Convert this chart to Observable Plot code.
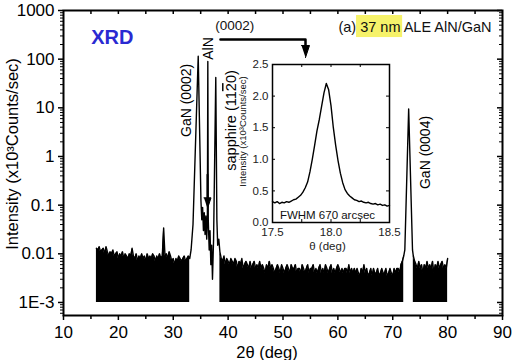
<!DOCTYPE html>
<html><head><meta charset="utf-8">
<script src="https://cdn.jsdelivr.net/npm/d3@7"></script>
<script src="https://cdn.jsdelivr.net/npm/@observablehq/plot@0.6"></script>
<style>
body{margin:0;background:#fff;}
#wrap{position:relative;width:512px;height:360px;}
#wrap svg{position:absolute;left:0;top:0;}
</style></head><body><div id="wrap"></div>
<script>
// ===== Main 2θ scan =====
// noise floor segments, sampled every 0.25 deg, values in counts/s (1 count/s = 1E-3 x10^3 counts/s)
const noiseAStart = 16.0, noiseBStart = 38.5, noiseCStart = 73.75, noiseStep = 0.25;
const noiseA = [13,12,14,11, 12,13,10,14,11, 9,11,10,12,9,10, 11,8,10,9,11,8, 10,9,8,10,9,13,
  9,8,10,7,9,8, 10,8,9,7,10,8, 9,8,10,9,7,9, 8,10,8,9,34,9, 10,8,11,9,7,8, 6,8,7,9,8,7, 8,9,7,8,9,8];
const noiseB = [11,8,7,9,6,8,7,6,8,7,
  6,8,7,5,7,6,8,5,6,7,
  6,5,7,5,6,7,5,6,5,7,
  5,6,5,4,6,5,7,5,6,5,
  4,5,6,5,4,6,5,4,5,6,
  5,4,6,5,5,6,4,5,5,4,
  6,5,4,5,6,4,5,5,6,4,
  5,4,5,6,4,5,4,6,5,4,
  5,6,4,5,4,5,6,5,4,5,
  4,5,5,4,6,4,5,4,5,4,
  5,4,3.5,5,4,6,4,5,3.5,4,
  5,3.5,5,4,4,5,3.5,4,5,4,
  4,5,3.5,4,5,4,3.5,5,4,5,
  5,4,6,7,9];
const noiseC = [9,7,6,5,7,5,6,4,6,5,7,5,6,5,7,4,6,5,7,5,6,7,5,6,5,8];
const FLOOR = 0.001; // 1E-3 (x10^3 counts/s)

// peaks (2θ deg, intensity x10^3 counts/s)
const peak1X = [33.25,33.6,34.55,35.05,35.2,35.35,35.5,35.65,35.8,35.95,36.1,36.22,36.3,36.38,36.55,36.7,36.85,37.0,37.15,37.35,37.75,37.95,38.1,38.3];
const peak1Y = [0.012,0.04,115,0.12,0.05,0.09,0.03,0.07,0.025,0.06,0.02,0.05,90,0.05,0.012,0.03,0.006,0.015,0.003,0.02,42,0.05,0.015,0.02];
const peak2X = [72.2,72.9,73.6];
const peak2Y = [0.012,9.5,0.012];

const xTicks = [10,20,30,40,50,60,70,80,90];
const xMinorTicks = [15,25,35,45,55,65,75,85];
const yTicks = [0.001,0.01,0.1,1,10,100,1000];
const yTickLabels = ["1E-3","0.01","0.1","1","10","100","1000"];
const yMinor = [0.0006,0.0007,0.0008,0.0009].concat([0.001,0.01,0.1,1,10,100].flatMap(d => [2,3,4,5,6,7,8,9].map(k => k*d)));

// ===== Inset: sapphire rocking curve =====
const insetStart = 17.5, insetStep = 0.02;
const insetY = [0.33,0.31,0.33,0.30,0.32,0.31,0.33,0.32,0.34,0.36,
  0.37,0.40,0.43,0.48,0.55,0.64,0.80,1.00,1.22,1.45,
  1.63,1.84,2.05,2.20,2.10,1.85,1.50,1.22,0.98,0.78,
  0.63,0.52,0.46,0.42,0.39,0.36,0.35,0.33,0.34,0.32,
  0.31,0.32,0.30,0.29,0.30,0.28,0.29,0.27,0.28,0.26,0.27];
const insetXTicks = [17.5,18.0,18.5];
const insetXLabels = ["17.5","18.0","18.5"];
const insetXAll = [17.5,17.75,18.0,18.25,18.5];
const insetYTicks = [0,0.5,1.0,1.5,2.0,2.5];
const insetYLabels = ["0.0","0.5","1.0","1.5","2.0","2.5"];

// ===== build tables =====
const FONT = '"Liberation Sans", Arial, Helvetica, sans-serif';
const seg = (start, vals, name) => vals.map((v, i) => ({x: start + i*noiseStep, y: v/1000, seg: name}));
const noiseRows = [...seg(noiseAStart, noiseA, "a"), ...seg(noiseBStart, noiseB, "b"), ...seg(noiseCStart, noiseC, "c")];
const peakRows = [...peak1X.map((x,i)=>({x, y: peak1Y[i]})), ...peak2X.map((x,i)=>({x, y: peak2Y[i]}))];
const scanRows = [...noiseRows, ...peakRows].sort((a,b)=>a.x-b.x);
const insetRows = insetY.map((y,i)=>({x: insetStart + i*insetStep, y}));

const W = 512, H = 360, mL = 63, mR = 10, mT = 10, mB = 45;
const fw = W-mL-mR, fh = H-mT-mB;

const bracket = [{x:38.6,y:254},{x:54.1,y:254},{x:54.1,y:180}];
const bracketHead = [{x:53.37,y:191},{x:54.83,y:191},{x:54.1,y:108}];
const shaft = [{x:36.24,y:0.42},{x:36.24,y:0.13}];
const shaftHead = [{x:35.6,y:0.1415},{x:36.88,y:0.1415},{x:36.24,y:0.0854}];

const main = Plot.plot({
  width: W, height: H, marginLeft: mL, marginRight: mR, marginTop: mT, marginBottom: mB,
  style: {fontFamily: FONT, fontSize: "17px", background: "white", color: "black"},
  x: {domain: [10, 90], axis: null},
  y: {type: "log", domain: [5.4e-4, 1000], axis: null},
  marks: [
    Plot.rect([0], {x1: 63.4, x2: 71.8, y1: 278, y2: 789, fill: "#f6f26a"}),
    Plot.areaY(noiseRows, {x: "x", y1: FLOOR, y2: "y", z: "seg", fill: "black", curve: "linear"}),
    Plot.line(scanRows, {x: "x", y: "y", stroke: "black", strokeWidth: 1.4}),
    Plot.frame({stroke: "black", strokeWidth: 2}),
    Plot.tickX(xTicks, {x: d=>d, insetTop: fh, insetBottom: -5, strokeWidth: 1.5}),
    Plot.tickX(xMinorTicks, {x: d=>d, insetTop: fh, insetBottom: -4, strokeWidth: 1.5}),
    Plot.tickX([...xTicks.slice(1,-1), ...xMinorTicks], {x: d=>d, insetTop: 0, insetBottom: fh-4, strokeWidth: 1.5}),
    Plot.tickY(yTicks, {y: d=>d, insetLeft: -5, insetRight: fw, strokeWidth: 1.5}),
    Plot.tickY(yMinor, {y: d=>d, insetLeft: -3, insetRight: fw, strokeWidth: 1}),
    Plot.tickY(yTicks, {y: d=>d, insetLeft: fw-5, insetRight: 0, strokeWidth: 1.5}),
    Plot.tickY(yMinor, {y: d=>d, insetLeft: fw-3, insetRight: 0, strokeWidth: 1}),
    Plot.text(xTicks, {x: d=>d, text: d=>String(d), frameAnchor: "bottom", lineAnchor: "middle", dy: 17, fontSize: 17}),
    Plot.text(yTicks, {y: d=>d, text: (d,i)=>yTickLabels[i], frameAnchor: "left", dx: -9, textAnchor: "end", lineAnchor: "middle", fontSize: 17}),
    Plot.text(["Intensity (x10³Counts/sec)"], {text: d=>d, frameAnchor: "left", textAnchor: "middle", lineAnchor: "middle", dx: -51, dy: -9, rotate: -90, fontSize: 16.5}),
    Plot.text(["2θ (deg)"], {text: d=>d, frameAnchor: "bottom", textAnchor: "middle", lineAnchor: "middle", dx: -16, dy: 37, fontSize: 16.5}),
    Plot.text(["XRD"], {text: d=>d, x: 18.9, y: 280, fontSize: 20, fontWeight: "bold", fill: "#2a2ad2"}),
    Plot.text(["(a) 37 nm ALE AlN/GaN"], {text: d=>d, x: 60.1, y: 448, textAnchor: "start", fontSize: 14.5, fill: "#111"}),
    Plot.text(["(0002)"], {text: d=>d, x: 41.2, y: 492, fontSize: 13.5, fill: "#111"}),
    Plot.line(bracket, {x: "x", y: "y", stroke: "black", strokeWidth: 2.5}),
    Plot.line(bracketHead, {x: "x", y: "y", fill: "black", stroke: "black", strokeWidth: 1}),
    Plot.line(shaft, {x: "x", y: "y", stroke: "black", strokeWidth: 2}),
    Plot.line(shaftHead, {x: "x", y: "y", fill: "black", stroke: "black", strokeWidth: 1}),
    Plot.text(["GaN (0002)"], {text: d=>d, x: 32.5, y: 14.2, rotate: -90, fontSize: 14}),
    Plot.text(["AlN"], {text: d=>d, x: 36.4, y: 166, rotate: -90, fontSize: 14}),
    Plot.text(["sapphire (1120)"], {text: d=>d, x: 40.6, y: 5.5, rotate: -90, fontSize: 14.5}),
    Plot.text(["GaN (0004)"], {text: d=>d, x: 75.9, y: 1.21, rotate: -90, fontSize: 14})
  ]
});

d3.select(main).selectAll("text").filter(function(){ return this.textContent === "sapphire (1120)"; }).each(function(){
  const t = d3.select(this); t.text(null);
  t.append("tspan").text("sapphire (11");
  t.append("tspan").attr("text-decoration", "overline").text("2");
  t.append("tspan").text("0)");
});

const ifw = 117, ifh = 158;
const inset = Plot.plot({
  width: W, height: H, marginLeft: 272, marginRight: 123, marginTop: 64, marginBottom: 138,
  style: {background: "transparent", fontFamily: FONT, fontSize: "11.5px", color: "black"},
  x: {domain: [17.5, 18.5], axis: null},
  y: {domain: [0, 2.5], axis: null},
  marks: [
    Plot.frame({fill: "white", stroke: "none"}),
    Plot.line(insetRows, {x: "x", y: "y", stroke: "black", strokeWidth: 1.4}),
    Plot.frame({stroke: "black", strokeWidth: 1.5}),
    Plot.tickY(insetYTicks, {y: d=>d, insetLeft: 0, insetRight: ifw-3}),
    Plot.tickY(insetYTicks, {y: d=>d, insetLeft: ifw-3, insetRight: 0}),
    Plot.tickX(insetXAll, {x: d=>d, insetTop: ifh-3, insetBottom: 0}),
    Plot.tickX(insetXAll, {x: d=>d, insetTop: 0, insetBottom: ifh-3}),
    Plot.text(insetYTicks, {y: d=>d, text: (d,i)=>insetYLabels[i], frameAnchor: "left", dx: -4, textAnchor: "end", lineAnchor: "middle", fontSize: 11.5, fill: "#222"}),
    Plot.text(insetXTicks, {x: d=>d, text: (d,i)=>insetXLabels[i], frameAnchor: "bottom", lineAnchor: "middle", dy: 10, fontSize: 11.5, fill: "#222"}),
    Plot.text(["θ (deg)"], {text: d=>d, frameAnchor: "bottom", lineAnchor: "middle", dx: -3.5, dy: 24, fontSize: 11.5, fill: "#222"}),
    Plot.text(["Intensity (x10³Counts/sec)"], {text: d=>d, frameAnchor: "left", textAnchor: "middle", lineAnchor: "middle", dx: -30, dy: -12, rotate: -90, fontSize: 9.5, fill: "#111"}),
    Plot.text(["FWHM 670 arcsec"], {text: d=>d, x: 17.97, y: 0.12, fontSize: 11.5, fill: "#111"})
  ]
});

const wrap = document.getElementById("wrap");
wrap.appendChild(main);
wrap.appendChild(inset);
</script>
</body></html>
